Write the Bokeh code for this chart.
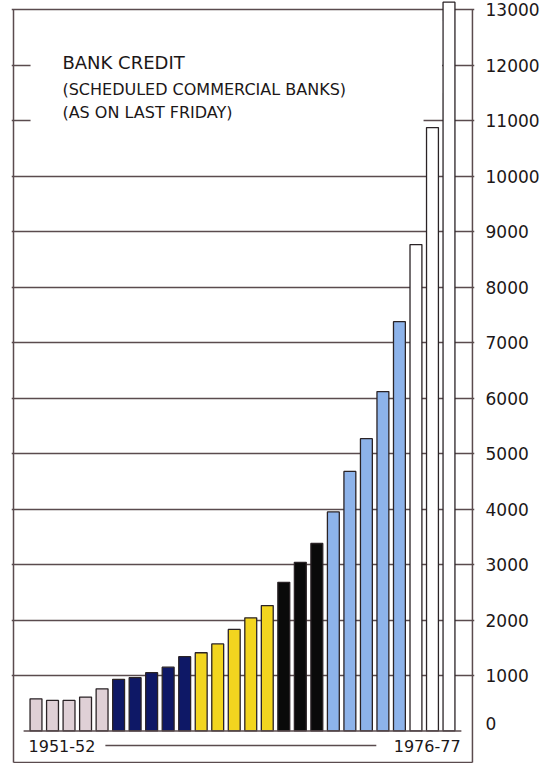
from bokeh.plotting import figure
from bokeh.models import Range1d, FixedTicker, Label, BoxAnnotation, ColumnDataSource
from bokeh.embed import file_html
from bokeh.resources import INLINE

# ---- data ----
years = ["1951-52", "1952-53", "1953-54", "1954-55", "1955-56",
         "1956-57", "1957-58", "1958-59", "1959-60", "1960-61",
         "1961-62", "1962-63", "1963-64", "1964-65", "1965-66",
         "1966-67", "1967-68", "1968-69",
         "1969-70", "1970-71", "1971-72", "1972-73", "1973-74",
         "1974-75", "1975-76", "1976-77"]
credit = [580, 550, 550, 610, 760,
          930, 960, 1050, 1150, 1340,
          1410, 1570, 1830, 2040, 2260,
          2680, 3040, 3380,
          3950, 4680, 5270, 6120, 7380,
          8770, 10880, 13140]
group_sizes = [5, 5, 5, 3, 5, 3]
group_colors = ["#dfd0d6", "#0e1866", "#f2d51f", "#0a0a0a", "#8db3ea", "#ffffff"]
y_ticks = [1000, 2000, 3000, 4000, 5000, 6000, 7000, 8000, 9000, 10000, 11000, 12000, 13000]
zero_label = "0"
title = "BANK CREDIT"
subtitle1 = "(SCHEDULED COMMERCIAL BANKS)"
subtitle2 = "(AS ON LAST FRIDAY)"

colors = []
for k, c in zip(group_sizes, group_colors):
    colors += [c] * k
idx = list(range(len(years)))
n = len(years)

INK = "#2a2326"
GRID = "#5a4b4e"
TXT = "#1c1718"
FONT = "DejaVu Sans"

x_left, x_right = -1.362, n - 1 + 1.42
y_bottom, y_top = -569, y_ticks[-1]
zero_pos = 135  # the "0" label sits a little above the baseline

p = figure(frame_width=463, frame_height=763,
           x_range=Range1d(-1.483, 26.544),
           y_range=Range1d(-587, 13171),
           x_axis_location=None, y_axis_location="right",
           output_backend="svg", toolbar_location=None,
           min_border_left=11, min_border_top=0, min_border_bottom=0,
           min_border_right=0, background_fill_color="white",
           border_fill_color="white")
p.outline_line_color = None

# axis (labels only)
ax = p.yaxis[0]
ax.ticker = FixedTicker(ticks=[zero_pos] + y_ticks)
ax.major_label_overrides = {zero_pos: zero_label}
ax.axis_line_color = None
ax.major_tick_line_color = None
ax.minor_tick_line_color = None
ax.major_label_standoff = 5
ax.major_label_text_font = FONT
ax.major_label_text_font_size = "17px"
ax.major_label_text_color = TXT

p.xgrid.visible = False
p.ygrid.ticker = FixedTicker(ticks=y_ticks)
p.ygrid.grid_line_color = GRID
p.ygrid.grid_line_width = 1.3

# frame lines
p.segment(x0=[x_left, x_right, x_left], y0=[y_bottom, y_bottom, y_bottom],
          x1=[x_left, x_right, x_right], y1=[y_top, y_top, y_bottom],
          line_color=GRID, line_width=1.5)

# bars
src = ColumnDataSource(dict(x=idx, top=credit, color=colors, year=years))
p.vbar(x="x", top="top", bottom=0, width=0.72, source=src,
       fill_color="color", line_color=INK, line_width=1.3)

# baseline
p.segment(x0=[-0.75], y0=[0], x1=[n - 1 + 0.75], y1=[0],
          line_color=GRID, line_width=1.5)

# year labels and connecting line
p.segment(x0=[4.2], y0=[-262], x1=[20.6], y1=[-262], line_color=GRID, line_width=1.3)
p.add_layout(Label(x=-0.45, y=-280, text=years[0], text_align="left",
                   text_baseline="middle", text_font=FONT,
                   text_font_size="16px", text_color=TXT))
p.add_layout(Label(x=n - 1 + 0.7, y=-280, text=years[-1], text_align="right",
                   text_baseline="middle", text_font=FONT,
                   text_font_size="16px", text_color=TXT))

# white title panel (hides grid lines behind the title)
p.add_layout(BoxAnnotation(left=-0.33, right=n - 1 - 0.42, bottom=11500, top=12800,
                           fill_color="white", fill_alpha=1, line_color=None))
p.add_layout(BoxAnnotation(left=-0.33, right=23.46, bottom=10940, top=11510,
                           fill_color="white", fill_alpha=1, line_color=None))

p.add_layout(Label(x=1.6, y=12050, text=title, text_align="left",
                   text_baseline="middle", text_font=FONT,
                   text_font_size="18px", text_color=TXT))
p.add_layout(Label(x=1.6, y=11560, text=subtitle1, text_align="left",
                   text_baseline="middle", text_font=FONT,
                   text_font_size="16px", text_color=TXT))
p.add_layout(Label(x=1.6, y=11150, text=subtitle2, text_align="left",
                   text_baseline="middle", text_font=FONT,
                   text_font_size="16px", text_color=TXT))

open("out.html", "w").write(file_html(p, INLINE))
